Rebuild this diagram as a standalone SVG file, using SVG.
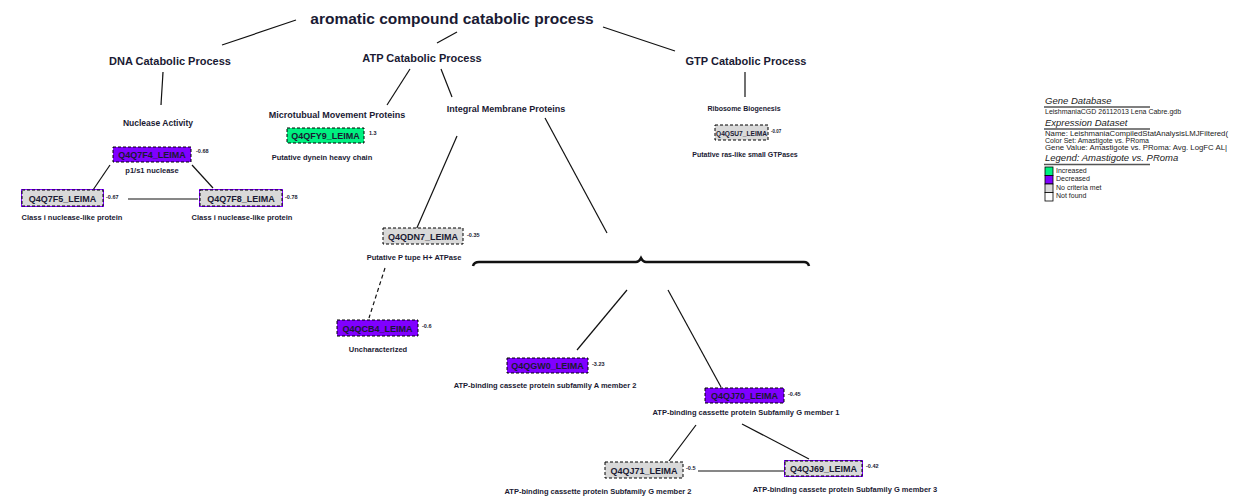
<svg xmlns="http://www.w3.org/2000/svg" width="1233" height="497" viewBox="0 0 1233 497">
<style>
text{font-family:"Liberation Sans",Arial,sans-serif;fill:#1a1a33;}
.t{font-size:15.5px;font-weight:bold;}
.p{font-size:11px;font-weight:bold;}
.s{font-size:8.5px;font-weight:bold;}
.l{font-size:7.5px;font-weight:bold;}
.n{font-size:9px;font-weight:bold;}
.v{font-size:5.5px;font-weight:bold;}
.c line,.c path{stroke:#111;stroke-width:1.2;fill:none;}
.box{stroke:#000;stroke-width:1;stroke-dasharray:3,2;}
.pur{fill:#8000ff;}
.grn{fill:#00f080;}
.gry{fill:#d9d9d9;}
.pb{fill:none;stroke:#8000ff;stroke-width:2;}
.lg{font-size:9.5px;font-style:italic;fill:#222;}
.lt{font-size:7px;fill:#222;}
</style>
<rect width="1233" height="497" fill="#fff"/>
<g class="c" id="connectors">
<line x1="296" y1="20" x2="222" y2="45"/>
<line x1="457" y1="32" x2="437" y2="43"/>
<line x1="603" y1="27" x2="675" y2="51"/>
<line x1="163" y1="72" x2="161" y2="105"/>
<line x1="410" y1="69" x2="387" y2="105"/>
<line x1="441" y1="69" x2="452" y2="97"/>
<line x1="745" y1="72" x2="745" y2="97"/>
<line x1="110" y1="165" x2="93" y2="190"/>
<line x1="192" y1="165" x2="213" y2="188"/>
<line x1="128" y1="199" x2="198" y2="199"/>
<line x1="457" y1="136" x2="416" y2="230"/>
<line x1="545" y1="118" x2="607" y2="233"/>
<line x1="385" y1="268" x2="369" y2="318" stroke-dasharray="4,3"/>
<path d="M473,266 Q474,262 479,262 L636,262 Q639,262 641,258 Q643,262 646,262 L804,262 Q808,262 809,266" style="stroke-width:2.5"/>
<line x1="627" y1="290" x2="577" y2="350"/>
<line x1="668" y1="290" x2="721" y2="387"/>
<line x1="696" y1="425" x2="669" y2="461"/>
<line x1="742" y1="424" x2="809" y2="459"/>
<line x1="698" y1="471" x2="785" y2="471"/>
</g>
<g id="title"><text class="t" x="452" y="24" text-anchor="middle">aromatic compound catabolic process</text></g>
<g id="dna"><text class="p" x="170" y="65" text-anchor="middle">DNA Catabolic Process</text></g>
<g id="atp"><text class="p" x="422" y="62" text-anchor="middle">ATP Catabolic Process</text></g>
<g id="gtp"><text class="p" x="746" y="65" text-anchor="middle">GTP Catabolic Process</text></g>
<g id="nuclease"><text class="s" x="158" y="126" text-anchor="middle">Nuclease Activity</text></g>
<g id="microtubual"><text class="n" x="337" y="118" text-anchor="middle">Microtubual Movement Proteins</text></g>
<g id="integral"><text class="n" x="506" y="112" text-anchor="middle">Integral Membrane Proteins</text></g>
<g id="ribosome"><text class="l" x="744" y="111" text-anchor="middle" style="font-size:7px">Ribosome Biogenesis</text></g>

<g id="Q4QFY9">
<rect class="box grn" x="287" y="128" width="77" height="15"/>
<text class="n" x="325.5" y="139" text-anchor="middle">Q4QFY9_LEIMA</text>
<text class="v" x="369" y="135">1.3</text>
<text class="l" x="322" y="160" text-anchor="middle">Putative dynein heavy chain</text>
</g>
<g id="Q4Q7F4">
<rect class="box pur" x="113" y="147" width="78" height="15"/>
<text class="n" x="152" y="158" text-anchor="middle">Q4Q7F4_LEIMA</text>
<text class="v" x="196" y="153">-0.68</text>
<text class="l" x="152" y="173" text-anchor="middle">p1/s1 nuclease</text>
</g>
<g id="Q4Q7F5">
<rect class="pb" x="22" y="190" width="81" height="16"/>
<rect class="box gry" x="22" y="190" width="81" height="16"/>
<text class="n" x="62.5" y="201.5" text-anchor="middle">Q4Q7F5_LEIMA</text>
<text class="v" x="106" y="199">-0.67</text>
<text class="l" x="72" y="220" text-anchor="middle">Class i nuclease-like protein</text>
</g>
<g id="Q4Q7F8">
<rect class="pb" x="200" y="190" width="82" height="16"/>
<rect class="box gry" x="200" y="190" width="82" height="16"/>
<text class="n" x="241" y="201.5" text-anchor="middle">Q4Q7F8_LEIMA</text>
<text class="v" x="285" y="199">-0.78</text>
<text class="l" x="242" y="220" text-anchor="middle">Class i nuclease-like protein</text>
</g>
<g id="Q4QSU7">
<rect class="box gry" x="715" y="125" width="53" height="15"/>
<text class="n" x="741.5" y="135.5" text-anchor="middle" style="font-size:6.6px">Q4QSU7_LEIMA</text>
<text class="v" x="771" y="133" style="font-size:4.5px">-0.07</text>
<text class="l" x="745" y="157" text-anchor="middle" style="font-size:7px">Putative ras-like small GTPases</text>
</g>
<g id="Q4QDN7">
<rect class="box gry" x="383" y="228" width="80" height="16"/>
<text class="n" x="423" y="239.5" text-anchor="middle">Q4QDN7_LEIMA</text>
<text class="v" x="467" y="237">-0.35</text>
<text class="l" x="414" y="260" text-anchor="middle">Putative P tupe H+ ATPase</text>
</g>
<g id="Q4QCB4">
<rect class="box pur" x="337" y="320" width="81" height="16"/>
<text class="n" x="377.5" y="331.5" text-anchor="middle">Q4QCB4_LEIMA</text>
<text class="v" x="422" y="328">-0.6</text>
<text class="l" x="378" y="352" text-anchor="middle">Uncharacterized</text>
</g>
<g id="Q4QGW0">
<rect class="box pur" x="507" y="358" width="81" height="15"/>
<text class="n" x="547.5" y="369" text-anchor="middle">Q4QGW0_LEIMA</text>
<text class="v" x="592" y="366">-3.23</text>
<text class="l" x="545" y="388" text-anchor="middle">ATP-binding cassete protein subfamily A member 2</text>
</g>
<g id="Q4QJ70">
<rect class="box pur" x="705" y="388" width="79" height="15"/>
<text class="n" x="744.5" y="399" text-anchor="middle">Q4QJ70_LEIMA</text>
<text class="v" x="788" y="396">-0.45</text>
<text class="l" x="746" y="415" text-anchor="middle">ATP-binding cassette protein Subfamily G member 1</text>
</g>
<g id="Q4QJ71">
<rect class="box gry" x="605" y="462" width="78" height="16"/>
<text class="n" x="644" y="473.5" text-anchor="middle">Q4QJ71_LEIMA</text>
<text class="v" x="686" y="470">-0.5</text>
<text class="l" x="598" y="494" text-anchor="middle">ATP-binding cassette protein Subfamily G member 2</text>
</g>
<g id="Q4QJ69">
<rect class="pb" x="785" y="461" width="77" height="15"/>
<rect class="box gry" x="785" y="461" width="77" height="15"/>
<text class="n" x="823.5" y="472" text-anchor="middle">Q4QJ69_LEIMA</text>
<text class="v" x="866" y="468">-0.42</text>
<text class="l" x="845" y="492" text-anchor="middle">ATP-binding cassete protein Subfamily G member 3</text>
</g>

<g id="legend">
<text class="lg" x="1045" y="104">Gene Database</text>
<line x1="1044" y1="107" x2="1150" y2="107" stroke="#555" stroke-width="1.5"/>
<text class="lt" x="1045" y="114">LeishmaniaCGD 26112013 Lena Cabre.gdb</text>
<text class="lg" x="1045" y="126">Expression Dataset</text>
<line x1="1044" y1="129" x2="1150" y2="129" stroke="#555" stroke-width="1.5"/>
<text class="lt" x="1045" y="135.5" textLength="183" lengthAdjust="spacingAndGlyphs">Name: LeishmaniaCompiledStatAnalysisLMJFiltered(</text>
<text class="lt" x="1045" y="142.5">Color Set: Amastigote vs. PRoma</text>
<text class="lt" x="1045" y="149.5" textLength="182" lengthAdjust="spacingAndGlyphs">Gene Value: Amastigote vs. PRoma: Avg. LogFC AL|</text>
<text class="lg" x="1045" y="161">Legend: Amastigote vs. PRoma</text>
<line x1="1044" y1="164.5" x2="1150" y2="164.5" stroke="#555" stroke-width="1.5"/>
<rect x="1045" y="167" width="8" height="8.5" fill="#00f080" stroke="#000" stroke-width="0.8"/>
<rect x="1045" y="175.5" width="8" height="8.5" fill="#8000ff" stroke="#000" stroke-width="0.8"/>
<rect x="1045" y="184" width="8" height="8.5" fill="#d9d9d9" stroke="#000" stroke-width="0.8"/>
<rect x="1045" y="192.5" width="8" height="8.5" fill="#fff" stroke="#000" stroke-width="0.8"/>
<text class="lt" x="1056" y="173">Increased</text>
<text class="lt" x="1056" y="181">Decreased</text>
<text class="lt" x="1056" y="189.5">No criteria met</text>
<text class="lt" x="1056" y="198">Not found</text>
</g>
</svg>
